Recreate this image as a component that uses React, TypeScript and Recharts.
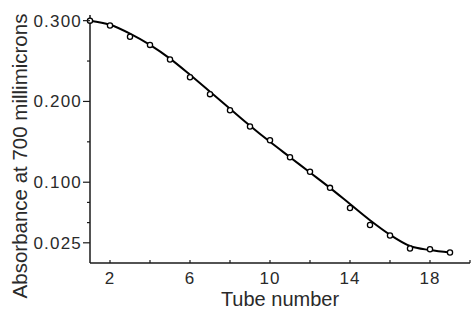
import { ComposedChart, Label, Line, XAxis, YAxis } from "recharts"

const tubes = [1, 2, 3, 4, 5, 6, 7, 8, 9, 10, 11, 12, 13, 14, 15, 16, 17, 18, 19]
const smoothCurve = [0.3, 0.295, 0.284, 0.27, 0.253, 0.233, 0.212, 0.191, 0.17, 0.15, 0.131, 0.112, 0.093, 0.073, 0.053, 0.035, 0.021, 0.016, 0.013]
const measured = [0.3, 0.294, 0.28, 0.27, 0.252, 0.23, 0.209, 0.189, 0.169, 0.152, 0.131, 0.113, 0.093, 0.068, 0.047, 0.034, 0.018, 0.017, 0.013]

const xTicks = [2, 4, 6, 8, 10, 12, 14, 16, 18, 20]
const xLabels = [2, 6, 10, 14, 18]
const yTicks = [0.025, 0.05, 0.075, 0.1, 0.15, 0.2, 0.25, 0.3]
const yLabels = [0.025, 0.1, 0.2, 0.3]

const data = tubes.map((tube, i) => ({ tube, curve: smoothCurve[i], point: measured[i] }))

const font = "'Liberation Sans', Arial, sans-serif"
const ink = "#1a1a1a"
const textInk = "#2a2a2a"

function XTick(props: any) {
  const { x, y, payload } = props
  const labelled = xLabels.includes(payload.value)
  return (
    <g>
      <line x1={x} x2={x} y1={y} y2={y - 3} stroke={ink} strokeWidth={1.2} />
      {labelled && (
        <text x={x} y={y + 21} textAnchor="middle" fontFamily={font} fontSize={17} fill={textInk} letterSpacing={1}>
          {payload.value}
        </text>
      )}
    </g>
  )
}

function YTick(props: any) {
  const { x, y, payload } = props
  const labelled = yLabels.includes(payload.value)
  return (
    <g>
      <line x1={labelled ? x - 7 : x - 3} x2={x} y1={y} y2={y} stroke={ink} strokeWidth={1.2} />
      {labelled && (
        <text x={x - 8} y={y + 6} textAnchor="end" fontFamily={font} fontSize={17} fill={textInk} letterSpacing={1.2}>
          {payload.value.toFixed(3)}
        </text>
      )}
    </g>
  )
}

export default function App() {
  return (
    <div style={{ position: "absolute", left: 0, top: 0, background: "#fff" }}>
      <ComposedChart width={471} height={310} data={data} margin={{ top: 15, right: 1, bottom: 0, left: 0 }}>
        <XAxis
          dataKey="tube"
          type="number"
          domain={[1, 20]}
          ticks={xTicks}
          tick={<XTick />}
          tickLine={false}
          tickSize={0}
          tickMargin={0}
          height={47}
          stroke={ink}
          strokeWidth={1.5}
          interval={0}
        >
          <Label
            content={() => (
              <text x={280} y={306} textAnchor="middle" fontFamily={font} fontSize={20} fill={textInk}>
                Tube number
              </text>
            )}
          />
        </XAxis>
        <YAxis
          type="number"
          domain={[0, 0.307]}
          ticks={yTicks}
          tick={<YTick />}
          tickLine={false}
          tickSize={0}
          tickMargin={0}
          width={90}
          stroke={ink}
          strokeWidth={1.5}
          interval={0}
        >
          <Label
            content={() => (
              <text
                x={19}
                y={156}
                textAnchor="middle"
                dominantBaseline="central"
                transform="rotate(-90, 19, 156)"
                fontFamily={font}
                fontSize={20.5}
                fill={textInk}
              >
                Absorbance at 700 millimicrons
              </text>
            )}
          />
        </YAxis>
        <Line
          dataKey="curve"
          type="monotone"
          stroke="#000"
          strokeWidth={2}
          dot={false}
          activeDot={false}
          isAnimationActive={false}
        />
        <Line
          dataKey="point"
          stroke="none"
          dot={{ r: 2.6, fill: "#fff", stroke: "#000", strokeWidth: 1.3 }}
          activeDot={false}
          isAnimationActive={false}
        />
      </ComposedChart>
    </div>
  )
}
